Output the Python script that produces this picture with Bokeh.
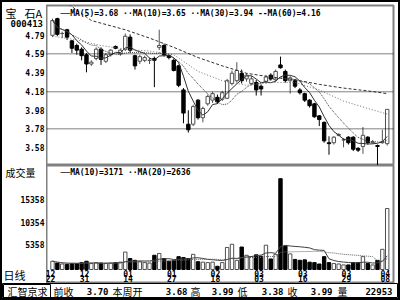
import numpy as np
import pandas as pd
from bokeh.plotting import figure
from bokeh.models import ColumnDataSource, Label, Span, Range1d
from bokeh.layouts import column, row
from bokeh.embed import file_html
from bokeh.resources import INLINE
from bokeh.core.properties import value

# ---------------- data ----------------
opens = [4.79, 4.97, 4.81, 4.85, 4.73, 4.68, 4.64, 4.58, 4.48, 4.54,
         4.64, 4.51, 4.58, 4.67, 4.59, 4.64, 4.77, 4.57, 4.51, 4.52,
         4.52, 4.54, 4.66, 4.68, 4.57, 4.52, 4.46, 4.20, 3.83, 3.83,
         4.09, 3.90, 4.05, 4.09, 4.12, 4.10, 4.11, 4.27, 4.30, 4.38,
         4.32, 4.27, 4.28, 4.24, 4.29, 4.36, 4.31, 4.47, 4.40, 4.30,
         4.30, 4.20, 4.16, 4.09, 4.05, 3.92, 3.85, 3.63, 3.63, 3.71,
         3.66, 3.69, 3.69, 3.57, 3.59, 3.69, 3.63, 3.60, 3.63, 3.62]
highs = [4.97, 4.98, 4.83, 4.86, 4.74, 4.70, 4.66, 4.60, 4.52, 4.66,
         4.66, 4.60, 4.64, 4.68, 4.64, 4.81, 4.80, 4.58, 4.58, 4.57,
         4.55, 4.56, 4.85, 4.70, 4.58, 4.54, 4.47, 4.22, 3.98, 4.04,
         4.10, 4.02, 4.15, 4.18, 4.15, 4.19, 4.32, 4.41, 4.50, 4.42,
         4.38, 4.35, 4.31, 4.26, 4.36, 4.38, 4.42, 4.56, 4.42, 4.35,
         4.32, 4.22, 4.17, 4.10, 4.06, 3.93, 3.86, 3.70, 3.70, 3.73,
         3.68, 3.70, 3.70, 3.58, 3.80, 3.70, 3.66, 3.61, 3.77, 3.99]
lows = [4.77, 4.78, 4.76, 4.74, 4.60, 4.58, 4.52, 4.39, 4.46, 4.52,
        4.47, 4.49, 4.56, 4.64, 4.57, 4.62, 4.60, 4.42, 4.48, 4.50,
        4.48, 4.23, 4.63, 4.56, 4.53, 4.40, 4.23, 3.84, 3.74, 3.81,
        3.88, 3.85, 4.03, 4.06, 4.05, 4.08, 4.10, 4.25, 4.28, 4.27,
        4.29, 4.25, 4.14, 4.14, 4.27, 4.30, 4.29, 4.43, 4.28, 4.16,
        4.22, 4.15, 4.07, 4.01, 3.90, 3.81, 3.63, 3.50, 3.61, 3.70,
        3.58, 3.61, 3.54, 3.53, 3.51, 3.61, 3.62, 3.38, 3.62, 3.60]
closes = [4.95, 4.80, 4.81, 4.77, 4.65, 4.63, 4.57, 4.48, 4.50, 4.64,
          4.53, 4.58, 4.63, 4.65, 4.63, 4.78, 4.63, 4.46, 4.56, 4.55,
          4.52, 4.52, 4.68, 4.58, 4.55, 4.41, 4.25, 3.95, 3.77, 4.02,
          3.90, 4.00, 4.13, 4.16, 4.07, 4.17, 4.30, 4.38, 4.41, 4.30,
          4.36, 4.32, 4.20, 4.21, 4.34, 4.32, 4.40, 4.44, 4.30, 4.33,
          4.24, 4.17, 4.09, 4.03, 3.91, 3.88, 3.65, 3.62, 3.69, 3.72,
          3.66, 3.63, 3.56, 3.55, 3.71, 3.63, 3.64, 3.59, 3.64, 3.99]
volumes = [1800, 1400, 1200, 1100, 1300, 1300, 1500, 1800, 1300, 1500,
           1400, 1300, 1400, 1500, 1600, 3800, 2400, 2000, 1700, 1500,
           1400, 3100, 3500, 2400, 1800, 2000, 2800, 2600, 2400, 3300,
           1700, 1600, 1500, 1600, 700, 1500, 4800, 5500, 2000, 4900,
           3100, 2800, 3200, 2900, 5300, 2300, 3300, 19800, 5100, 3400,
           2200, 2000, 2100, 1600, 1500, 1200, 2800, 1500, 1300, 1200,
           1000, 1000, 1500, 1500, 2800, 1300, 1000, 2000, 4400, 13300]

# long moving averages (they need history before the window)
ma30_idx = [0, 5, 10, 15, 20, 25, 30, 35, 40, 45, 50, 55, 60, 65, 69]
ma30_val = [4.78, 4.74, 4.68, 4.64, 4.62, 4.58, 4.40, 4.30, 4.25, 4.28, 4.28, 4.20, 4.08, 4.00, 3.94]
ma60_idx = [0, 8, 15, 20, 25, 30, 35, 40, 45, 50, 55, 60, 65, 69]
ma60_val = [5.25, 4.95, 4.85, 4.76, 4.66, 4.55, 4.46, 4.38, 4.34, 4.31, 4.26, 4.22, 4.19, 4.16]

tick_idx = [0, 7, 16, 25, 34, 43, 52, 61, 69]
tick_month = ["12", "12", "01", "01", "02", "03", "03", "03", "04"]
tick_day = ["22", "31", "14", "27", "18", "03", "16", "29", "08"]

price_ticks = [4.79, 4.59, 4.39, 4.18, 3.98, 3.78, 3.58]
price_grid = [4.59, 4.18, 3.78]
vol_ticks = [5358, 10354, 15358]

stock_name_1 = "宝"
stock_name_2 = "石A"
stock_code = "000413"
legend_price = "──MA(5)=3.68 ··MA(10)=3.65 ··MA(30)=3.94 --MA(60)=4.16"
legend_vol = "──MA(10)=3171 ··MA(20)=2636"
info_words = ["汇智京求", "前收", "本周开", "高", "低", "收", "量"]
info_numbers = ["3.70", "3.68", "3.99", "3.38", "3.99", "22953"]

# ---------------- derived ----------------
idx = np.arange(len(closes))
o = np.array(opens); c = np.array(closes); h = np.array(highs); l = np.array(lows)
v = np.array(volumes)
up = c >= o
ma5 = pd.Series(c).rolling(5, min_periods=1).mean().values
ma10 = pd.Series(c).rolling(10, min_periods=1).mean().values
vma10 = pd.Series(v).rolling(10, min_periods=1).mean().values
vma20 = pd.Series(v).rolling(20, min_periods=1).mean().values

UPC = "#505050"
fill = ["white" if u else "black" for u in up]
edge = [UPC if u else "black" for u in up]

src = ColumnDataSource(dict(x=idx, o=o, c=c, h=h, l=l,
                            top=np.maximum(o, c), bot=np.minimum(o, c),
                            fill=fill, edge=edge, v=v, zero=np.zeros(len(v))))

MONO = "DejaVu Sans Mono"
CJK = "Noto Sans CJK SC"
FRAME = "#808080"

xr = Range1d(-1.24, 70.3)
pyr = Range1d(3.384, 5.112)
vyr = Range1d(-3052, 22672)


def bare(fig):
    fig.grid.visible = False
    return fig


# ---------------- price panel ----------------
p = bare(figure(width=352, height=163, x_range=xr, y_range=pyr,
                output_backend="svg", toolbar_location=None, x_axis_location=None,
                y_axis_location=None, min_border_left=0, min_border_right=5,
                min_border_top=3, min_border_bottom=0))
p.outline_line_color = FRAME
p.outline_line_width = 2

for g in price_grid:
    p.add_layout(Span(location=g, dimension="width", line_color="black",
                      line_dash="1 1", line_width=1))

p.segment(x0="x", y0="h", x1="x", y1="l", line_color="edge", source=src)
p.vbar(x="x", width=0.7, top="top", bottom="bot", fill_color="fill",
       line_color="edge", source=src)
p.line(idx, ma5, line_color="#303030", line_width=1)
p.line(idx, ma10, line_color="#404040", line_width=1, line_dash="1 1")
p.line(ma30_idx, ma30_val, line_color="#707070", line_width=1, line_dash="1 2")
p.line(ma60_idx, ma60_val, line_color="#303030", line_width=1, line_dash="3 2")

p.add_layout(Label(x=14, y=152, x_units="screen", y_units="screen", text=legend_price,
                   text_font=MONO, text_font_style="bold", text_font_size="8px",
                   text_baseline="middle", text_color="black"))

# left label column for the price panel (shares the price scale)
pl = bare(figure(width=44, height=163, x_range=Range1d(0, 44), y_range=pyr,
                 output_backend="svg", toolbar_location=None, x_axis_location=None,
                 y_axis_location=None, min_border_left=0, min_border_right=0,
                 min_border_top=3, min_border_bottom=0))
pl.outline_line_color = None
pl.text(x=[44] * len(price_ticks), y=price_ticks, text=[f"{t:.2f}" for t in price_ticks],
        text_font=value(MONO), text_font_style="bold", text_font_size="8px",
        text_align="right", text_baseline="middle", x_offset=-2, text_color="black")
pl.add_layout(Label(x=3, y=153, x_units="screen", y_units="screen", text=stock_name_1,
                    text_font=CJK, text_font_size="11px", text_baseline="middle",
                    text_color="black"))
pl.add_layout(Label(x=22, y=153, x_units="screen", y_units="screen", text=stock_name_2,
                    text_font=CJK, text_font_size="11px", text_baseline="middle",
                    text_color="black"))
pl.add_layout(Label(x=8, y=142, x_units="screen", y_units="screen", text=stock_code,
                    text_font=MONO, text_font_style="bold", text_font_size="9px",
                    text_baseline="middle", text_color="black"))

# ---------------- volume panel ----------------
q = bare(figure(width=352, height=118, x_range=xr, y_range=vyr,
                output_backend="svg", toolbar_location=None, x_axis_location=None,
                y_axis_location=None, min_border_left=0, min_border_right=5,
                min_border_top=0, min_border_bottom=0))
q.outline_line_color = FRAME
q.outline_line_width = 2

q.vbar(x="x", width=0.7, top="v", bottom="zero", fill_color="fill",
       line_color="edge", source=src)
q.line(idx, vma10, line_color="#404040", line_width=1)
q.line(idx, vma20, line_color="#606060", line_width=1, line_dash="1 1")

tsrc = ColumnDataSource(dict(x=tick_idx, m=tick_month, d=tick_day,
                             ym=[-800] * len(tick_idx), yd=[-2050] * len(tick_idx)))
for col in ["m", "d"]:
    q.text(x="x", y="y" + col, text=col, source=tsrc, text_font=value(MONO),
           text_font_style="bold", text_font_size="8px", text_align="center",
           text_baseline="middle", x_offset=-2, text_color="black")

q.add_layout(Label(x=14, y=111, x_units="screen", y_units="screen", text=legend_vol,
                   text_font=MONO, text_font_style="bold", text_font_size="8px",
                   text_baseline="middle", text_color="black"))

ql = bare(figure(width=44, height=118, x_range=Range1d(0, 44), y_range=vyr,
                 output_backend="svg", toolbar_location=None, x_axis_location=None,
                 y_axis_location=None, min_border=0))
ql.outline_line_color = None
ql.text(x=[44] * len(vol_ticks), y=vol_ticks, text=[str(t) for t in vol_ticks],
        text_font=value(MONO), text_font_style="bold", text_font_size="8px",
        text_align="right", text_baseline="middle", x_offset=-2, text_color="black")
ql.add_layout(Label(x=3, y=111, x_units="screen", y_units="screen", text="成交量",
                    text_font=CJK, text_font_size="10px", text_baseline="middle",
                    text_color="black"))
ql.add_layout(Label(x=1, y=9, x_units="screen", y_units="screen", text="日线",
                    text_font=CJK, text_font_size="11px", text_baseline="middle",
                    text_color="black"))

# ---------------- info bar ----------------
r = bare(figure(width=396, height=15, x_range=Range1d(0, 396), y_range=Range1d(0, 15),
                output_backend="svg", toolbar_location=None, x_axis_location=None,
                y_axis_location=None, min_border=0))
r.outline_line_color = "black"
r.quad(left=[1], right=[48], bottom=[1], top=[14], fill_color=None, line_color="black")
word_x = [5, 51, 110, 188, 235, 285, 335]
num_x = [106, 185, 231, 281, 330, 390]
r.text(x=word_x, y=[7.5] * len(word_x), text=info_words, text_font=value(CJK),
       text_font_size="10px", text_baseline="middle", text_align="left", text_color="black")
r.text(x=num_x, y=[7.5] * len(num_x), text=info_numbers, text_font=value(MONO),
       text_font_style="bold", text_font_size="9px", text_baseline="middle",
       text_align="right", text_color="black")

top = row(column(pl, ql, spacing=0), column(p, q, spacing=0), spacing=0)
lay = column(top, r, spacing=0, styles={"border": "2px solid black"})
open("out.html", "w").write(file_html(lay, INLINE))
